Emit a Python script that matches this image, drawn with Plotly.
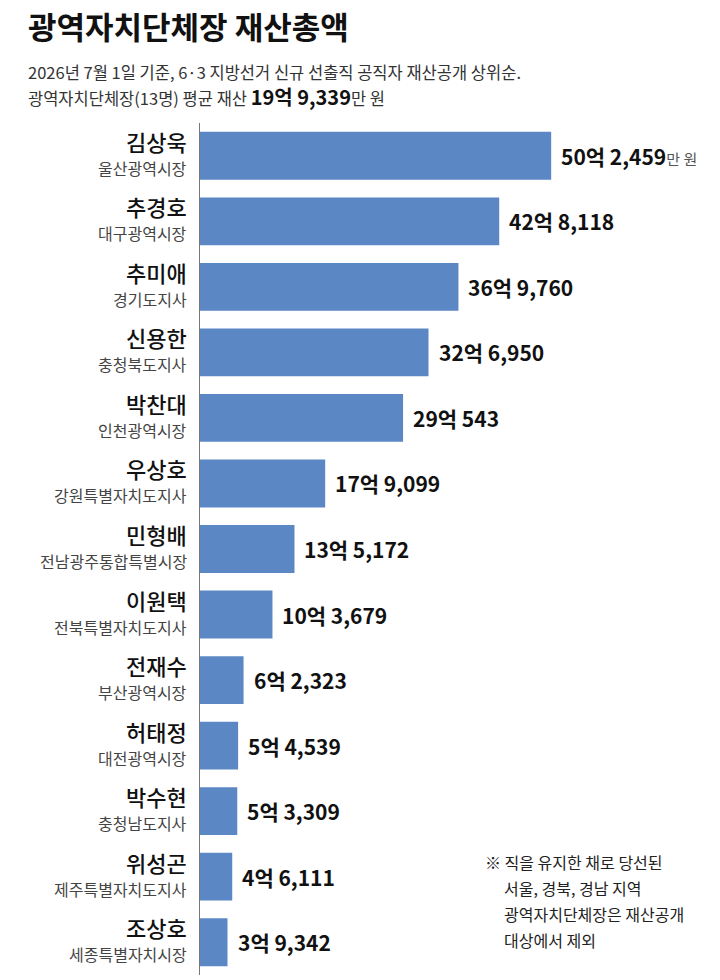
import plotly.graph_objects as go

names = ["김상욱", "추경호", "추미애", "신용한", "박찬대", "우상호", "민형배",
         "이원택", "전재수", "허태정", "박수현", "위성곤", "조상호"]
regions = ["울산광역시장", "대구광역시장", "경기도지사", "충청북도지사", "인천광역시장",
           "강원특별자치도지사", "전남광주통합특별시장", "전북특별자치도지사", "부산광역시장",
           "대전광역시장", "충청남도지사", "제주특별자치도지사", "세종특별자치시장"]
values = [502459, 428118, 369760, 326950, 290543, 179099, 135172,
          103679, 62323, 54539, 53309, 46111, 39342]  # 만 원

FONT = "Noto Sans CJK KR"
BAR = "#5b87c5"

W, H = 720, 980
ML, MR, MT, MB = 200, 0, 123, 5
pw, ph = W - ML - MR, H - MT - MB


def px2paper(x, y):
    return (x - ML) / pw, 1 - (y - MT) / ph


def fmt(v):
    eok, man = divmod(v, 10000)
    return f"{eok}억 {man:,}"


fig = go.Figure()
fig.add_trace(go.Bar(
    x=values, y=names, orientation="h",
    marker=dict(color=BAR, line=dict(width=0)),
    width=0.73, hoverinfo="skip",
))

ann = []
for i, (n, r, v) in enumerate(zip(names, regions, values)):
    ann.append(dict(x=0, xref="paper", y=n, yref="y", text=n, showarrow=False,
                    xanchor="right", yanchor="middle", xshift=-11, yshift=15,
                    font=dict(family=FONT, size=22, color="#111", weight=500)))
    ann.append(dict(x=0, xref="paper", y=n, yref="y", text=r, showarrow=False,
                    xanchor="right", yanchor="middle", xshift=-11, yshift=-12,
                    font=dict(family=FONT, size=16, color="#444")))
    txt = f"<b>{fmt(v)}</b>"
    if i == 0:
        txt += "<span style='font-size:15px;color:#555'>만 원</span>"
    ann.append(dict(x=v, xref="x", y=n, yref="y", text=txt, showarrow=False,
                    xanchor="left", yanchor="middle", xshift=8,
                    font=dict(family=FONT, size=21, color="#111")))


def page_text(text, px, py, size, color, bold=False):
    x, y = px2paper(px, py)
    return dict(x=x, y=y, xref="paper", yref="paper",
                text=f"<b>{text}</b>" if bold else text,
                showarrow=False, xanchor="left", yanchor="middle",
                font=dict(family=FONT, size=size, color=color))


ann.append(page_text("광역자치단체장 재산총액", 26, 25, 31, "#111", bold=True))
ann.append(page_text("2026년 7월 1일 기준, 6·3 지방선거 신규 선출직 공직자 재산공개 상위순.",
                     26, 72, 16.5, "#333"))
ann.append(page_text("광역자치단체장(13명) 평균 재산 <b><span style='font-size:20px;color:#111'>19억 9,339</span></b>만 원",
                     26, 97, 16.5, "#333"))

note = [("※ 직을 유지한 채로 당선된", 483), ("서울, 경북, 경남 지역", 502),
        ("광역자치단체장은 재산공개", 502), ("대상에서 제외", 502)]
for k, (line, px) in enumerate(note):
    ann.append(page_text(line, px, 862 + 26 * k, 16, "#222"))

fig.update_layout(
    width=W, height=H,
    margin=dict(l=ML, r=MR, t=MT, b=MB, autoexpand=False),
    paper_bgcolor="white", plot_bgcolor="white",
    showlegend=False,
    annotations=ann,
    xaxis=dict(range=[0, 744000], visible=False, fixedrange=True),
    yaxis=dict(autorange=False, range=[len(names) - 0.5, -0.5], showticklabels=False,
               showgrid=False, zeroline=False, showline=True, linecolor="#777",
               linewidth=1.5, ticks="", type="category", fixedrange=True),
    font=dict(family=FONT),
)

fig.write_html("out.html", config={"displayModeBar": False, "staticPlot": True},
               post_script="document.body.style.margin='0';document.body.style.overflow='hidden';")
